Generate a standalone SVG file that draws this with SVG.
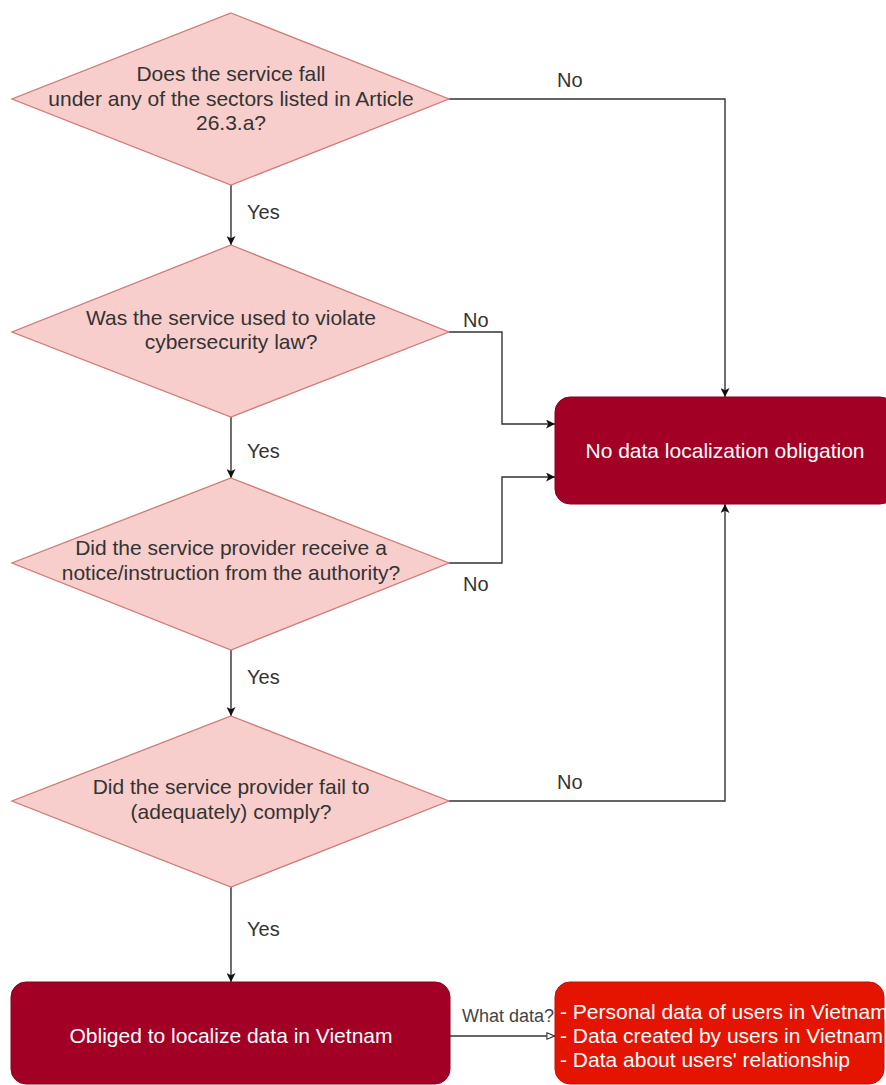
<svg xmlns="http://www.w3.org/2000/svg" width="886" height="1085" viewBox="0 0 886 1085">
<style>
.dia{fill:#f8cecc;stroke:#d07a76;stroke-width:1.3}
.dark{fill:#a20025;stroke:#8a001f;stroke-width:1}
.red{fill:#e51400;stroke:#c41100;stroke-width:1}
.t{font-family:"Liberation Sans",Arial,sans-serif;font-size:21px;fill:#333;text-anchor:middle}
.w{font-family:"Liberation Sans",Arial,sans-serif;font-size:21px;fill:#fff}
.lbl{font-family:"Liberation Sans",Arial,sans-serif;font-size:20px;fill:#333}
.sm{font-family:"Liberation Sans",Arial,sans-serif;font-size:18px;fill:#444}
.c{fill:none;stroke:#333;stroke-width:1.4}
</style>
<defs>
<marker id="arr" viewBox="0 0 10 10" refX="10" refY="5" markerWidth="9" markerHeight="9" markerUnits="userSpaceOnUse" orient="auto"><path d="M0,0 L10,5 L0,10 L2.5,5 Z" fill="#111"/></marker>
<marker id="open" viewBox="0 0 10 10" refX="10" refY="5" markerWidth="9" markerHeight="9" markerUnits="userSpaceOnUse" orient="auto"><path d="M1,1.5 L9.5,5 L1,8.5 Z" fill="#fff" stroke="#333" stroke-width="1.2"/></marker>
</defs>
<g id="connectors">
<path class="c" d="M231,185 V245" marker-end="url(#arr)"/>
<path class="c" d="M231,417 V478" marker-end="url(#arr)"/>
<path class="c" d="M231,650 V716" marker-end="url(#arr)"/>
<path class="c" d="M231,887 V982" marker-end="url(#arr)"/>
<path class="c" d="M449,99 H725 V397" marker-end="url(#arr)"/>
<path class="c" d="M449,332 H502 V424 H555" marker-end="url(#arr)"/>
<path class="c" d="M449,563 H502 V477 H555" marker-end="url(#arr)"/>
<path class="c" d="M449,801 H725 V504" marker-end="url(#arr)"/>
<path class="c" d="M450,1036 H555" marker-end="url(#open)"/>
<text class="lbl" x="247" y="219">Yes</text>
<text class="lbl" x="247" y="458">Yes</text>
<text class="lbl" x="247" y="684">Yes</text>
<text class="lbl" x="247" y="936">Yes</text>
<text class="lbl" x="557" y="87">No</text>
<text class="lbl" x="463" y="327">No</text>
<text class="lbl" x="463" y="591">No</text>
<text class="lbl" x="557" y="789">No</text>
<text class="sm" x="462" y="1022">What data?</text>
</g>
<g id="d1">
<polygon class="dia" points="231,13 449,99 231,185 12,99"/>
<text class="t" x="231" y="81">Does the service fall</text>
<text class="t" x="231" y="105.5">under any of the sectors listed in Article</text>
<text class="t" x="231" y="130">26.3.a?</text>
</g>
<g id="d2">
<polygon class="dia" points="231,245 449,332 231,417 12,332"/>
<text class="t" x="231" y="325">Was the service used to violate</text>
<text class="t" x="231" y="349">cybersecurity law?</text>
</g>
<g id="d3">
<polygon class="dia" points="231,478 449,563 231,650 12,563"/>
<text class="t" x="231" y="555">Did the service provider receive a</text>
<text class="t" x="231" y="580">notice/instruction from the authority?</text>
</g>
<g id="d4">
<polygon class="dia" points="231,716 449,801 231,887 12,801"/>
<text class="t" x="231" y="794">Did the service provider fail to</text>
<text class="t" x="231" y="819">(adequately) comply?</text>
</g>
<g id="noobl">
<rect class="dark" x="555" y="397" width="340" height="107" rx="15"/>
<text class="w" x="725" y="458" text-anchor="middle">No data localization obligation</text>
</g>
<g id="obliged">
<rect class="dark" x="11" y="982" width="439" height="102" rx="15"/>
<text class="w" x="231" y="1043" text-anchor="middle">Obliged to localize data in Vietnam</text>
</g>
<g id="whatdata">
<rect class="red" x="555" y="982" width="329" height="102" rx="15"/>
<text class="w" x="560" y="1019">- Personal data of users in Vietnam</text>
<text class="w" x="560" y="1043">- Data created by users in Vietnam</text>
<text class="w" x="560" y="1067">- Data about users' relationship</text>
</g>
</svg>
